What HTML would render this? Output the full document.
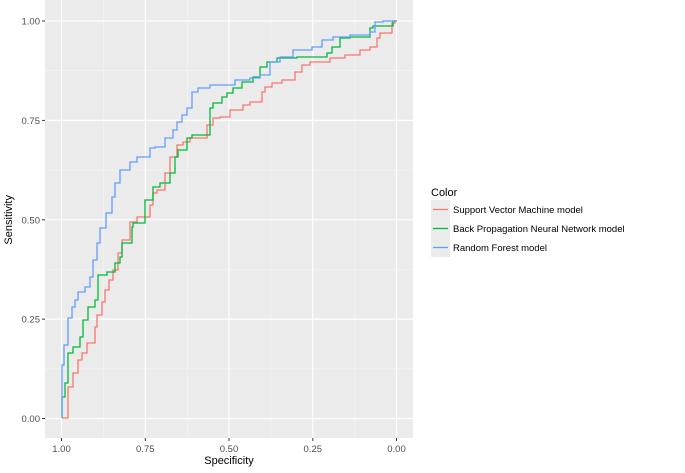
<!DOCTYPE html>
<html><head><meta charset="utf-8"><style>
html,body{margin:0;padding:0;background:#fff;width:685px;height:473px;overflow:hidden}
text{font-family:"Liberation Sans",sans-serif}
</style></head><body>
<svg width="685" height="473" xmlns="http://www.w3.org/2000/svg">
<rect x="45" y="0" width="368" height="438" fill="#ebebeb"/>
<g stroke="#f5f5f5" stroke-width="0.6">
<line x1="103.5" y1="0" x2="103.5" y2="438"/><line x1="187.3" y1="0" x2="187.3" y2="438"/><line x1="271" y1="0" x2="271" y2="438"/><line x1="354.8" y1="0" x2="354.8" y2="438"/>
<line x1="45" y1="70.7" x2="413" y2="70.7"/><line x1="45" y1="170.1" x2="413" y2="170.1"/><line x1="45" y1="269.5" x2="413" y2="269.5"/><line x1="45" y1="368.8" x2="413" y2="368.8"/>
</g>
<g stroke="#fff" stroke-width="1.2">
<line x1="61.5" y1="0" x2="61.5" y2="438"/><line x1="145.3" y1="0" x2="145.3" y2="438"/><line x1="229" y1="0" x2="229" y2="438"/><line x1="312.8" y1="0" x2="312.8" y2="438"/><line x1="396.5" y1="0" x2="396.5" y2="438"/>
<line x1="45" y1="21" x2="413" y2="21"/><line x1="45" y1="120.4" x2="413" y2="120.4"/><line x1="45" y1="219.8" x2="413" y2="219.8"/><line x1="45" y1="319.1" x2="413" y2="319.1"/><line x1="45" y1="418.5" x2="413" y2="418.5"/>
</g>
<g fill="none" stroke-width="1.3" stroke-linejoin="miter">
<polyline stroke="#f8766d" points="62,418 68,418 68,403 68,387 73,387 73,373 78,373 78,360 82,360 82,353 87,353 87,343 95,343 95,327 97,327 97,315 102,315 102,302 105,302 105,290 109,290 109,280 113,280 113,270 118,270 118,253 122,253 122,240 130,240 130,222 137,222 137,217 150,217 150,205 153,205 153,193 157,193 157,190 165,190 165,173 170,173 170,157 177,157 177,145 183,145 183,142 190,142 190,138 207,138 207,125 213,125 213,118 220,118 220,117 230,117 230,110 243,110 243,105 250,105 250,102 262,102 262,92 265,92 265,87 272,87 272,83 282,83 282,80 295,80 295,72 302,72 302,65 310,65 310,62 330,62 330,58 345,58 345,55 360,55 360,50 370,50 370,47 377,47 377,38 380,38 380,33 392,33 392,23 395,23 395,21 397,21"/>
<polyline stroke="#00ba38" points="62,418 62,413 62,397 65,397 65,383 68,383 68,353 73,353 73,347 80,347 80,337 83,337 83,320 88,320 88,307 95,307 95,300 98,300 98,275 107,275 107,272 115,272 115,263 120,263 120,257 122,257 122,243 132,243 132,227 133,227 133,223 145,223 145,200 153,200 153,187 160,187 160,183 170,183 170,173 175,173 175,157 178,157 178,150 187,150 187,138 192,138 192,135 210,135 210,108 213,108 213,103 222,103 222,97 227,97 227,93 233,93 233,88 242,88 242,82 253,82 253,77 260,77 260,67 267,67 267,62 277,62 277,58 297,58 297,57 327,57 327,53 332,53 332,47 340,47 340,38 350,38 350,37 370,37 370,28 373,28 373,26 380,26 393,26 393,21 397,21"/>
<polyline stroke="#619cff" points="62,418 62,392 62,365 64,365 64,345 68,345 68,318 72,318 72,307 75,307 75,300 78,300 78,292 85,292 85,287 90,287 90,277 93,277 93,260 97,260 97,243 100,243 100,228 106,228 106,213 112,213 112,197 115,197 115,183 120,183 120,170 130,170 130,162 137,162 137,157 150,157 150,148 155,148 155,147 165,147 165,138 173,138 173,130 177,130 177,122 182,122 182,115 187,115 187,108 192,108 192,92 198,92 198,88 210,88 210,85 235,85 235,80 250,80 250,78 260,78 260,75 270,75 270,62 280,62 280,57 293,57 293,50 312,50 312,47 322,47 322,40 333,40 333,37 350,37 350,35 370,35 370,32 375,32 375,22 383,22 383,21 397,21"/>
</g>
<g stroke="#333" stroke-width="1">
<line x1="42" y1="21" x2="45" y2="21"/><line x1="42" y1="120.4" x2="45" y2="120.4"/><line x1="42" y1="219.8" x2="45" y2="219.8"/><line x1="42" y1="319.1" x2="45" y2="319.1"/><line x1="42" y1="418.5" x2="45" y2="418.5"/>
<line x1="61.5" y1="438" x2="61.5" y2="441"/><line x1="145.3" y1="438" x2="145.3" y2="441"/><line x1="229" y1="438" x2="229" y2="441"/><line x1="312.8" y1="438" x2="312.8" y2="441"/><line x1="396.5" y1="438" x2="396.5" y2="441"/>
</g>
<g font-size="9.5" fill="#4d4d4d" text-anchor="end">
<text x="40" y="24.5">1.00</text><text x="40" y="124">0.75</text><text x="40" y="223.3">0.50</text><text x="40" y="322.6">0.25</text><text x="40" y="422">0.00</text>
</g>
<g font-size="9.5" fill="#4d4d4d" text-anchor="middle">
<text x="61.5" y="452">1.00</text><text x="145.3" y="452">0.75</text><text x="229" y="452">0.50</text><text x="312.8" y="452">0.25</text><text x="396.5" y="452">0.00</text>
</g>
<text x="229" y="464" font-size="11" text-anchor="middle" fill="#000">Specificity</text>
<text transform="translate(12,219.8) rotate(-90)" font-size="11" text-anchor="middle" fill="#000">Sensitivity</text>
<text x="431" y="196" font-size="11" fill="#000">Color</text>
<rect x="431" y="200" width="19" height="57" fill="#ebebeb"/>
<line x1="433" y1="209.5" x2="448" y2="209.5" stroke="#f8766d" stroke-width="1.3"/>
<line x1="433" y1="228.5" x2="448" y2="228.5" stroke="#00ba38" stroke-width="1.3"/>
<line x1="433" y1="247.5" x2="448" y2="247.5" stroke="#619cff" stroke-width="1.3"/>
<g font-size="9.5" fill="#000">
<text x="453" y="213">Support Vector Machine model</text>
<text x="453" y="232">Back Propagation Neural Network model</text>
<text x="453" y="251">Random Forest model</text>
</g>
</svg>
</body></html>
